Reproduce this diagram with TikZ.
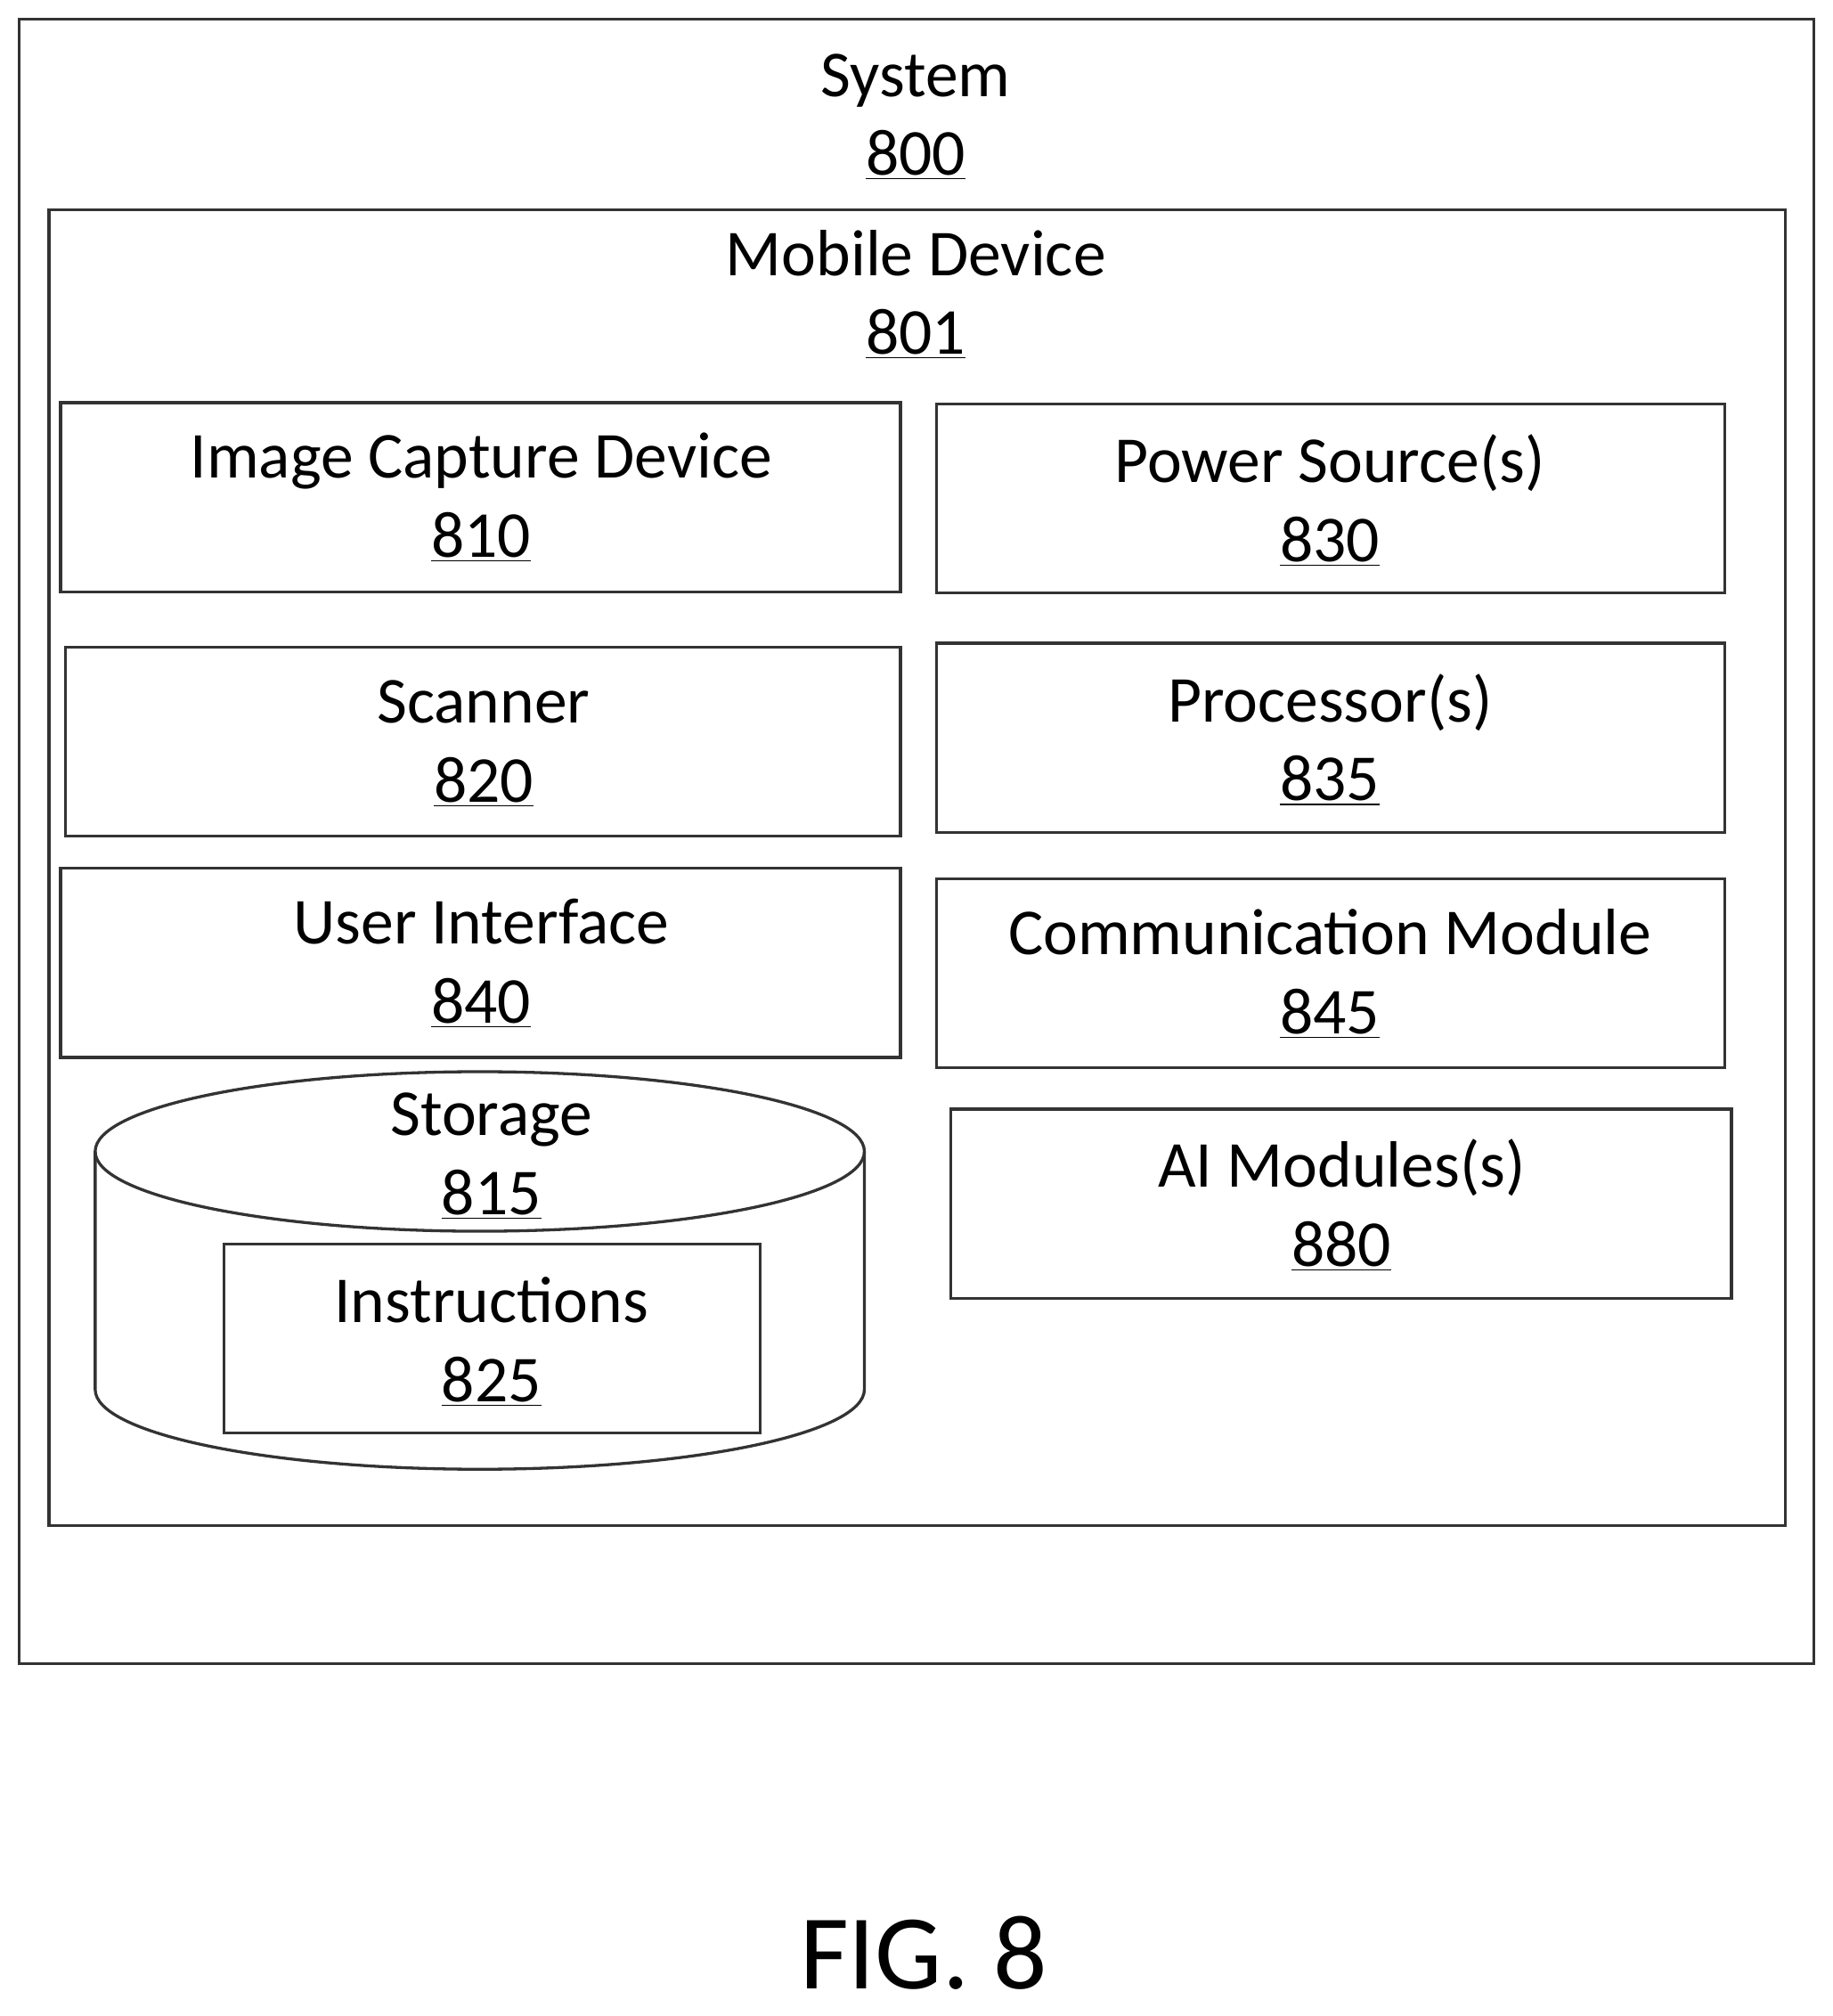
\documentclass[tikz,border=0pt]{standalone}
\usepackage{fontspec}
\setmainfont{Carlito}
\begin{document}
\begin{tikzpicture}[x=0.02cm,y=-0.02cm,
  box/.style={draw=black!80,line width=1.3pt},
  lbl/.style={font=\fontsize{29}{35}\selectfont,align=center,inner sep=0pt}]
\useasboundingbox (0,0) rectangle (1425,1567);
\draw[box] (15,15) rectangle (1410,1293);
\node[lbl] (sys) at (712,91) {System\\\underline{800}};
\draw[box] (38,163) rectangle (1388,1186);
\node[lbl] (mob) at (712,229) {Mobile Device\\\underline{801}};
\draw[box] (47,313) rectangle (700,460);
\node[lbl] (n810) at (374,387) {Image Capture Device\\\underline{810}};
\draw[box] (728,314) rectangle (1341,461);
\node[lbl] (n830) at (1034,389) {Power Source(s)\\\underline{830}};
\draw[box] (51,503) rectangle (700,650);
\node[lbl] (n820) at (376,578) {Scanner\\\underline{820}};
\draw[box] (728,500) rectangle (1341,647);
\node[lbl] (n835) at (1034,575) {Processor(s)\\\underline{835}};
\draw[box] (47,675) rectangle (700,822);
\node[lbl] (n840) at (374,749) {User Interface\\\underline{840}};
\draw[box] (728,683) rectangle (1341,830);
\node[lbl] (n845) at (1034,757) {Communication Module\\\underline{845}};
\draw[box] (739,862) rectangle (1346,1009);
\node[lbl] (n880) at (1043,937) {AI Modules(s)\\\underline{880}};
% cylinder
\draw[box] (373,895) ellipse [x radius=299, y radius=62];
\draw[box] (74,895) -- (74,1080) arc[start angle=180,end angle=0,x radius=299,y radius=62] -- (672,895);
\node[lbl] (n815) at (382,899) {Storage\\\underline{815}};
\draw[box] (174,967) rectangle (591,1114);
\node[lbl] (n825) at (382,1043) {Instructions\\\underline{825}};
\node[font=\fontsize{47}{56}\selectfont,inner sep=0pt] (fig) at (718,1518) {FIG. 8};
\end{tikzpicture}
\end{document}
